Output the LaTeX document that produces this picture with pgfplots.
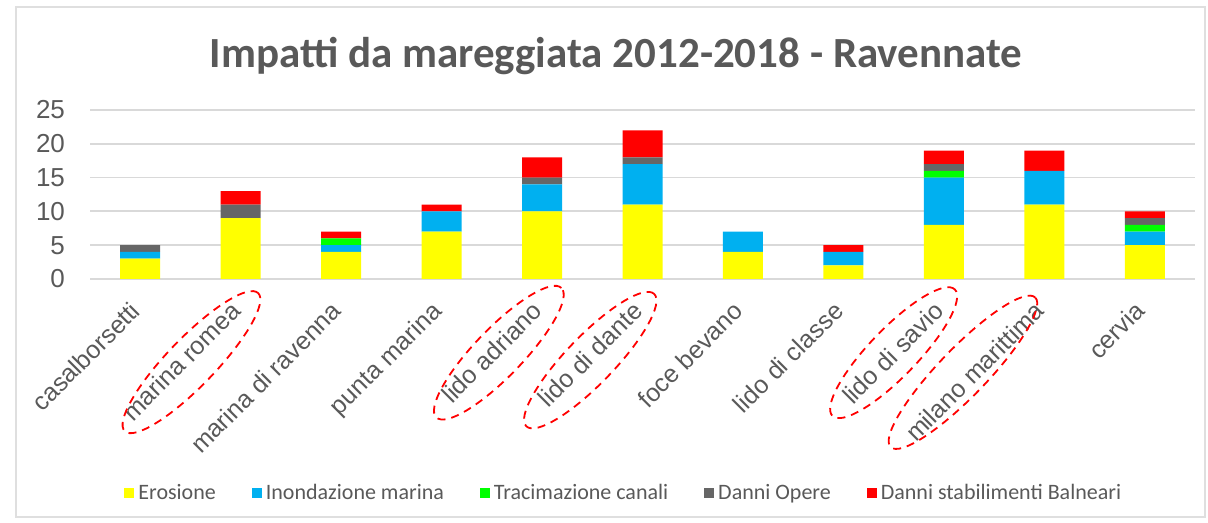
\documentclass[border=0pt]{standalone}
\usepackage{pgfplots}
\pgfplotsset{compat=1.18}
\usepackage{fontspec}
\setmainfont{Liberation Sans}
\newfontfamily\calfont{Carlito}
\usetikzlibrary{shapes.geometric}
\definecolor{txt}{HTML}{595959}
\definecolor{cE}{HTML}{FFFF00}
\definecolor{cI}{HTML}{00B0F0}
\definecolor{cT}{HTML}{00FF00}
\definecolor{cD}{HTML}{666666}
\definecolor{cS}{HTML}{FF0000}
\definecolor{gridc}{HTML}{D9D9D9}
\tikzset{ell/.style={draw=cS, line width=0.9pt, dash pattern=on 4pt off 3pt, ellipse, inner sep=0pt, rotate=46, minimum height=24pt}}
\begin{document}
\begin{tikzpicture}[x=1pt,y=1pt]
\path[use as bounding box] (0,0) rectangle (604,261.5);
\draw[gray!25, line width=0.8pt] (8,3) rectangle (602.5,258);
\begin{axis}[
  at={(45pt,122pt)}, anchor=south west,
  scale only axis, width=552.5pt, height=84.5pt,
  ybar stacked, bar width=20pt,
  xmin=-0.5, xmax=10.5, ymin=0, ymax=25,
  ytick={0,5,10,15,20,25},
  xtick={0,...,10},
  xticklabels={casalborsetti, marina romea, marina di ravenna, punta marina, lido adriano, lido di dante, foce bevano, lido di classe, lido di savio, milano marittima, cervia},
  x tick label style={rotate=45, anchor=north east, font=\fontsize{12.5}{14}\selectfont, text=txt, xshift=-8pt, yshift=0pt},
  y tick label style={font=\fontsize{13}{15}\selectfont, text=txt, xshift=-9pt},
  /pgf/number format/assume math mode=true,
  ymajorgrids, grid style={gridc, line width=0.9pt},
  axis line style={draw=none},
  major tick style={draw=none},
  clip=false,
  legend style={at={(0.484,-1.266)}, anchor=center, draw=none, font=\calfont\fontsize{11}{13}\selectfont, text=txt, legend columns=5, /tikz/every even column/.append style={column sep=16pt}},
  legend image code/.code={\fill[#1] (0pt,-2.5pt) rectangle (5pt,2.5pt);},
]
\addplot[fill=cE, draw=none] coordinates {(0,3) (1,9) (2,4) (3,7) (4,10) (5,11) (6,4) (7,2) (8,8) (9,11) (10,5)};
\addplot[fill=cI, draw=none] coordinates {(0,1) (1,0) (2,1) (3,3) (4,4) (5,6) (6,3) (7,2) (8,7) (9,5) (10,2)};
\addplot[fill=cT, draw=none] coordinates {(0,0) (1,0) (2,1) (3,0) (4,0) (5,0) (6,0) (7,0) (8,1) (9,0) (10,1)};
\addplot[fill=cD, draw=none] coordinates {(0,1) (1,2) (2,0) (3,0) (4,1) (5,1) (6,0) (7,0) (8,1) (9,0) (10,1)};
\addplot[fill=cS, draw=none] coordinates {(0,0) (1,2) (2,1) (3,1) (4,3) (5,4) (6,0) (7,1) (8,2) (9,3) (10,1)};
\legend{Erosione, Inondazione marina, Tracimazione canali, Danni Opere, Danni stabilimenti Balneari}
\node[font=\calfont\bfseries\fontsize{21.5}{24}\selectfont, text=txt] at (rel axis cs:0.476,1.32) {Impatti da mareggiata 2012-2018 - Ravennate};
\node[ell, minimum width=96pt] at (axis cs:0.51,-12.3) {};
\node[ell, minimum width=90pt] at (axis cs:3.57,-10.9) {};
\node[ell, minimum width=92pt] at (axis cs:4.48,-12.0) {};
\node[ell, minimum width=88pt] at (axis cs:7.50,-10.9) {};
\node[ell, minimum width=104pt] at (axis cs:8.19,-13.8) {};
\end{axis}
\end{tikzpicture}
\end{document}
